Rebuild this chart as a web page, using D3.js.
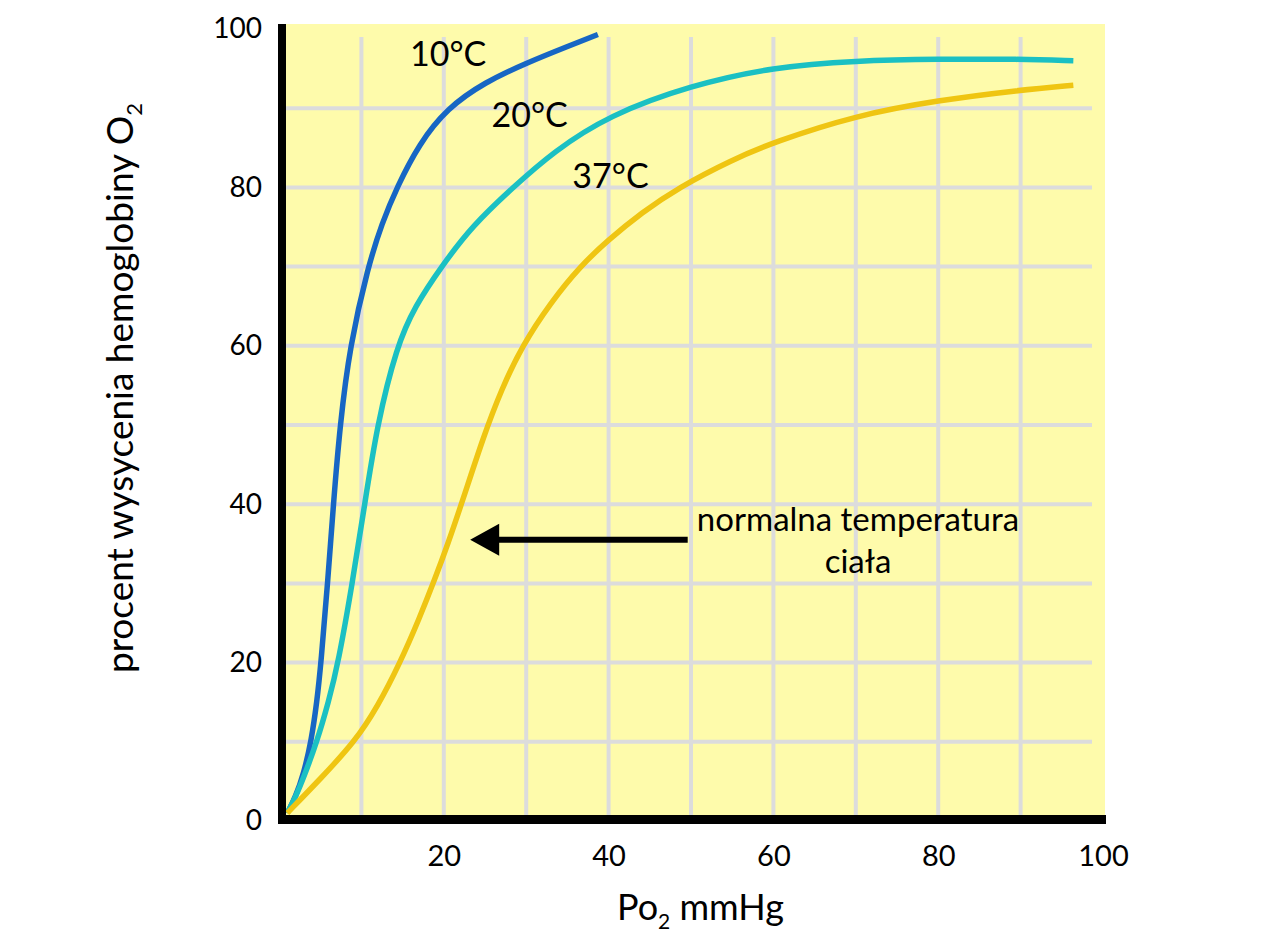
<!DOCTYPE html>
<html><head><meta charset="utf-8">
<script src="https://cdn.jsdelivr.net/npm/d3@7"></script>
<style>
body{margin:0;background:#fff}
svg{display:block}
text{font-family:Lato,'Open Sans',sans-serif;fill:#000}
</style>
</head><body>
<svg id="c" width="1280" height="938"></svg>
<script>
// ---- data ----
const xTicks = [20, 40, 60, 80, 100];
const yTicks = [0, 20, 40, 60, 80, 100];
const gridValues = [10, 20, 30, 40, 50, 60, 70, 80, 90];
const seriesNames = ["10°C", "20°C", "37°C"];

const po2_10C = [1, 2, 3, 3.9, 4.6, 5.1, 5.9, 6.6, 7.4, 8.6, 10.8, 12.5, 14.3, 17, 20.4, 25, 30, 35, 38.7];
const sat_10C = [1, 3, 6, 10, 15, 20, 30, 40, 50, 60, 70, 75.5, 80, 85.5, 90, 93.3, 95.7, 97.8, 99.3];

const po2_20C = [1, 2, 3, 4.6, 6, 7.2, 8.9, 10.4, 11.9, 14.3, 16.5, 19.7, 23.5, 28.4, 33.3, 40, 50, 60, 70, 80, 90, 96.4];
const sat_20C = [1, 3, 5.5, 10, 15, 20, 30, 40, 50, 60, 65, 70, 75.2, 80, 84.5, 89.1, 92.9, 95.2, 96, 96.2, 96.2, 96];

const po2_37C = [1, 5, 9.2, 12, 14.7, 17, 18.9, 20.5, 22.3, 24.8, 27, 29.5, 33, 36.5, 40, 44, 48.5, 55, 60, 70, 80, 90, 96.4];
const sat_37C = [1, 5.3, 10, 14.5, 20, 25.5, 30.5, 35, 40.5, 48.5, 54.5, 60, 65.5, 70, 73.4, 76.8, 80, 83.5, 85.7, 89.1, 91, 92.3, 92.9];

const annotationLines = ["normalna temperatura", "ciała"];
const arrowFrom = [49.6, 35.5];
const arrowTo = [23.2, 35.5];

// ---- setup ----
const svg = d3.select("#c");
const x = d3.scaleLinear().domain([0, 100]).range([279, 1103]);
const y = d3.scaleLinear().domain([0, 100]).range([821, 29]);

const colors = ["#1766c4", "#1bc0c3", "#efc512"];
const series = [
  po2_10C.map((p, i) => [p, sat_10C[i]]),
  po2_20C.map((p, i) => [p, sat_20C[i]]),
  po2_37C.map((p, i) => [p, sat_37C[i]])
];

// background
svg.append("rect").attr("x", x(0) + 7).attr("y", y(100) - 5)
  .attr("width", x(100) + 2 - (x(0) + 7)).attr("height", (y(0) - 6) - (y(100) - 5))
  .attr("fill", "#fefbab");

// grid
const grid = svg.append("g").attr("stroke", "#dcdcdc").attr("stroke-width", 4);
grid.selectAll(".gv").data(gridValues).join("line")
  .attr("x1", d => x(d)).attr("x2", d => x(d))
  .attr("y1", y(100) + 8).attr("y2", y(0) - 6);
grid.selectAll(".gh").data(gridValues).join("line")
  .attr("x1", x(0) + 7).attr("x2", x(100) - 11)
  .attr("y1", d => y(d)).attr("y2", d => y(d));

// curves
const line = d3.line().x(d => x(d[0])).y(d => y(d[1])).curve(d3.curveBasis);
svg.append("g").selectAll("path").data(series).join("path")
  .attr("d", line).attr("fill", "none")
  .attr("stroke", (d, i) => colors[i]).attr("stroke-width", 5.5)
  .attr("stroke-linecap", "butt");

// axes bars
svg.append("rect").attr("x", x(0) - 1).attr("y", y(100) - 5).attr("width", 8)
  .attr("height", (y(0) + 3) - (y(100) - 5)).attr("fill", "#000");
svg.append("rect").attr("x", x(0) - 1).attr("y", y(0) - 6).attr("width", x(100) + 3 - (x(0) - 1))
  .attr("height", 9).attr("fill", "#000");

// tick labels via axes
const xAxis = d3.axisBottom(x).tickValues(xTicks).tickSize(0).tickPadding(24);
svg.append("g").attr("transform", `translate(0,${y(0)})`).call(xAxis)
  .call(g => g.select(".domain").remove())
  .selectAll("text").style("font-size", "29px").style("font-family", "Lato");
const yAxis = d3.axisLeft(y).tickValues(yTicks).tickSize(0).tickPadding(17);
svg.append("g").attr("transform", `translate(${x(0)},0)`).call(yAxis)
  .call(g => g.select(".domain").remove())
  .selectAll("text").style("font-size", "28px").style("font-family", "Lato");

// curve labels
const labelPos = [[15.9, 95.3], [25.8, 87.6], [35.6, 79.9]];
svg.append("g").selectAll("text").data(seriesNames).join("text")
  .attr("x", (d, i) => x(labelPos[i][0])).attr("y", (d, i) => y(labelPos[i][1]))
  .style("font-size", "34px").text(d => d);

// arrow annotation
const ax1 = x(arrowFrom[0]), ay = y(arrowFrom[1]), ax2 = x(arrowTo[0]);
svg.append("line").attr("x1", ax1).attr("x2", ax2 + 20).attr("y1", ay).attr("y2", ay)
  .attr("stroke", "#000").attr("stroke-width", 6);
svg.append("path").attr("d", `M${ax2},${ay} L${ax2 + 29},${ay - 16} L${ax2 + 29},${ay + 16} Z`).attr("fill", "#000");
const ann = svg.append("text").attr("text-anchor", "middle").style("font-size", "33px");
ann.append("tspan").attr("x", 858).attr("y", 531).text(annotationLines[0]);
ann.append("tspan").attr("x", 858).attr("y", 573).text(annotationLines[1]);

// axis titles
const xt = svg.append("text").attr("x", 617).attr("y", 920).style("font-size", "36px");
xt.append("tspan").text("Po");
xt.append("tspan").attr("dy", 9).style("font-size", "21px").text("2");
xt.append("tspan").attr("dy", -9).text(" mmHg");

const yt = svg.append("text").attr("transform", "translate(133,388) rotate(-90)")
  .attr("text-anchor", "middle").style("font-size", "37px");
yt.append("tspan").text("procent wysycenia hemoglobiny O");
yt.append("tspan").attr("dy", 9).style("font-size", "22px").text("2");
</script>
</body></html>
